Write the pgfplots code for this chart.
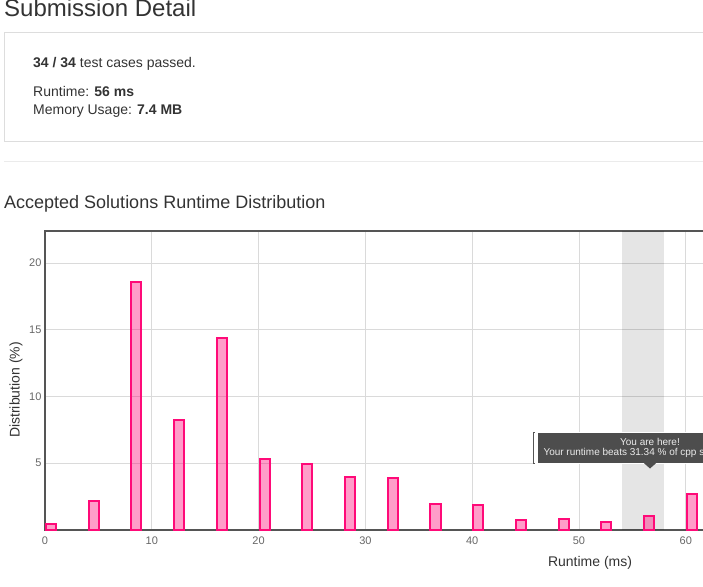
\documentclass[border=0pt]{standalone}
\usepackage{fontspec}
\setmainfont{Liberation Sans}
\usepackage{pgfplots}
\pgfplotsset{compat=1.18}
\definecolor{txt}{HTML}{333333}
\definecolor{axisc}{HTML}{555555}
\definecolor{gridc}{HTML}{DADADA}
\definecolor{tickc}{HTML}{666666}
\definecolor{barc}{RGB}{255,10,120}
\definecolor{tipc}{HTML}{4D4D4D}
\definecolor{boxc}{HTML}{DDDDDD}
\definecolor{hrc}{HTML}{EBEBEB}
\begin{document}
\begin{tikzpicture}
\path[use as bounding box] (0,0) rectangle (703pt,586pt);
\clip (0,0) rectangle (703pt,586pt);
% header
\node[anchor=base west, inner sep=0, text=txt, font=\fontsize{24}{28}\selectfont] at (4pt,569pt) {Submission Detail};
\draw[boxc, line width=1pt] (4.5pt,553.5pt) rectangle (720pt,444.5pt);
\node[anchor=base west, inner sep=0, text=txt, font=\fontsize{14}{17}\selectfont] at (33pt,518pt) {\textbf{34 / 34} test cases passed.};
\node[anchor=base west, inner sep=0, text=txt, font=\fontsize{14}{17}\selectfont] at (33pt,489pt) {Runtime: \textbf{56 ms}};
\node[anchor=base west, inner sep=0, text=txt, font=\fontsize{14}{17}\selectfont] at (33pt,471pt) {Memory Usage: \textbf{7.4 MB}};
\draw[hrc, line width=1pt] (4pt,424pt) -- (720pt,424pt);
\node[anchor=base west, inner sep=0, text=txt, font=\fontsize{18}{22}\selectfont] at (4pt,377pt) {Accepted Solutions Runtime Distribution};
% chart
\begin{axis}[
  at={(45pt,56pt)}, anchor=south west,
  scale only axis, width=683.5pt, height=299pt,
  xmin=0, xmax=64, ymin=0, ymax=22.4,
  axis line style={draw=axisc, line width=2pt},
  xtick={0,10,20,30,40,50,60}, ytick={5,10,15,20},
  grid=major, major grid style={draw=gridc, line width=0.8pt},
  tick style={draw=none},
  ticklabel style={font=\fontsize{11}{13}\selectfont, text=tickc},
  xticklabel style={yshift=-3pt},
  /pgf/number format/assume math mode=true,
  clip=true,
]
\addplot[draw=none, fill=black, fill opacity=0.1] coordinates {(54,0) (54,22.4) (58,22.4) (58,0)} -- cycle;
\addplot[ybar, bar width=0.95, draw=barc, line width=2pt, fill=barc, fill opacity=0.4, draw opacity=1] coordinates {
(0.56,0.45) (4.56,2.15) (8.56,18.6) (12.56,8.25) (16.56,14.35) (20.56,5.3)
(24.56,4.95) (28.56,3.97) (32.56,3.9) (36.56,1.95) (40.56,1.87) (44.56,0.75)
(48.56,0.82) (52.56,0.58) (56.56,1.05) (60.56,2.72)};
\end{axis}
% tooltip
\fill[white] (533pt,153.5pt) rectangle (765pt,122.5pt);
\draw[axisc, line width=0.6pt] (535pt,153.5pt) -- (533.3pt,153.5pt) -- (533.3pt,122.5pt) -- (535pt,122.5pt);
\fill[tipc] (537.7pt,153.3pt) rectangle (762pt,122.7pt);
\fill[tipc] (644pt,122.8pt) -- (656pt,122.8pt) -- (650pt,117.5pt) -- cycle;
\node[anchor=base, inner sep=0, text=white!92!black, font=\fontsize{10}{12}\selectfont] at (650pt,140pt) {You are here!};
\node[anchor=base west, inner sep=0, text=white!92!black, font=\fontsize{10}{12}\selectfont] at (543.3pt,130pt) {Your runtime beats 31.34 \% of cpp submissions.};
% axis labels
\node[rotate=90, inner sep=0, text=txt, font=\fontsize{14}{17}\selectfont] at (16pt,196pt) {Distribution (\%)};
\node[inner sep=0, text=txt, font=\fontsize{14}{17}\selectfont] at (590pt,23.5pt) {Runtime (ms)};
\end{tikzpicture}
\end{document}
